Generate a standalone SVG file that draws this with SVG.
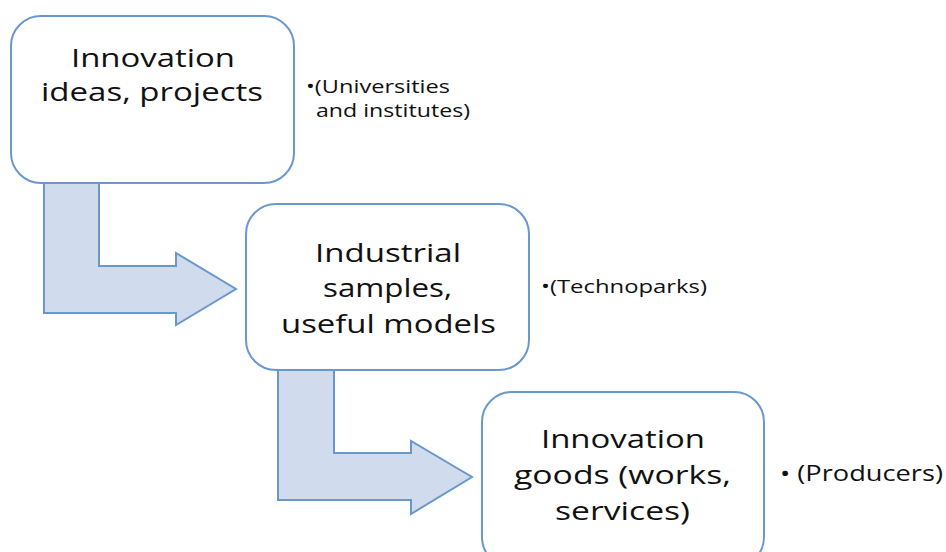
<svg xmlns="http://www.w3.org/2000/svg" width="946" height="552" viewBox="0 0 946 552">
<style>
.box{fill:#ffffff;stroke:#6a98cc;stroke-width:2}
.arr{fill:#d0dcee;stroke:#6a98cc;stroke-width:2;stroke-linejoin:miter}
.t{font-family:"Open Sans","Noto Sans",sans-serif;font-size:26px;fill:#111}
.s{font-family:"Open Sans","Noto Sans",sans-serif;fill:#111}
</style>
<rect width="946" height="552" fill="#ffffff"/>
<g id="connectors">
<path class="arr" d="M44,183 L99,183 L99,266 L176,266 L176,253 L236,289 L176,325 L176,313 L44,313 Z"/>
<path class="arr" d="M278,370 L334,370 L334,453 L411,453 L411,441 L472,477 L411,514 L411,500 L278,500 Z"/>
</g>
<g id="node1">
<rect class="box" x="11" y="16" width="283" height="167" rx="30"/>
<text class="t" x="71" y="67" textLength="164" lengthAdjust="spacingAndGlyphs">Innovation</text>
<text class="t" x="41" y="101" textLength="222" lengthAdjust="spacingAndGlyphs">ideas, projects</text>
</g>
<g id="node2">
<rect class="box" x="246" y="204" width="283" height="166" rx="30"/>
<text class="t" x="315" y="262" textLength="146" lengthAdjust="spacingAndGlyphs">Industrial</text>
<text class="t" x="323" y="297" textLength="129" lengthAdjust="spacingAndGlyphs">samples,</text>
<text class="t" x="281" y="333" textLength="215" lengthAdjust="spacingAndGlyphs">useful models</text>
</g>
<g id="node3">
<rect class="box" x="482" y="392" width="282" height="175" rx="30"/>
<text class="t" x="541" y="448" textLength="164" lengthAdjust="spacingAndGlyphs">Innovation</text>
<text class="t" x="514" y="484" textLength="217" lengthAdjust="spacingAndGlyphs">goods (works,</text>
<text class="t" x="555" y="520" textLength="135" lengthAdjust="spacingAndGlyphs">services)</text>
</g>
<g id="label1">
<text class="s" x="306" y="93" font-size="18" textLength="144" lengthAdjust="spacingAndGlyphs">•(Universities</text>
<text class="s" x="316" y="117" font-size="18" textLength="154" lengthAdjust="spacingAndGlyphs">and institutes)</text>
</g>
<g id="label2">
<text class="s" x="541" y="293" font-size="18" textLength="166" lengthAdjust="spacingAndGlyphs">•(Technoparks)</text>
</g>
<g id="label3">
<text class="s" x="780" y="481" font-size="22" textLength="163" lengthAdjust="spacingAndGlyphs">• (Producers)</text>
</g>
</svg>
